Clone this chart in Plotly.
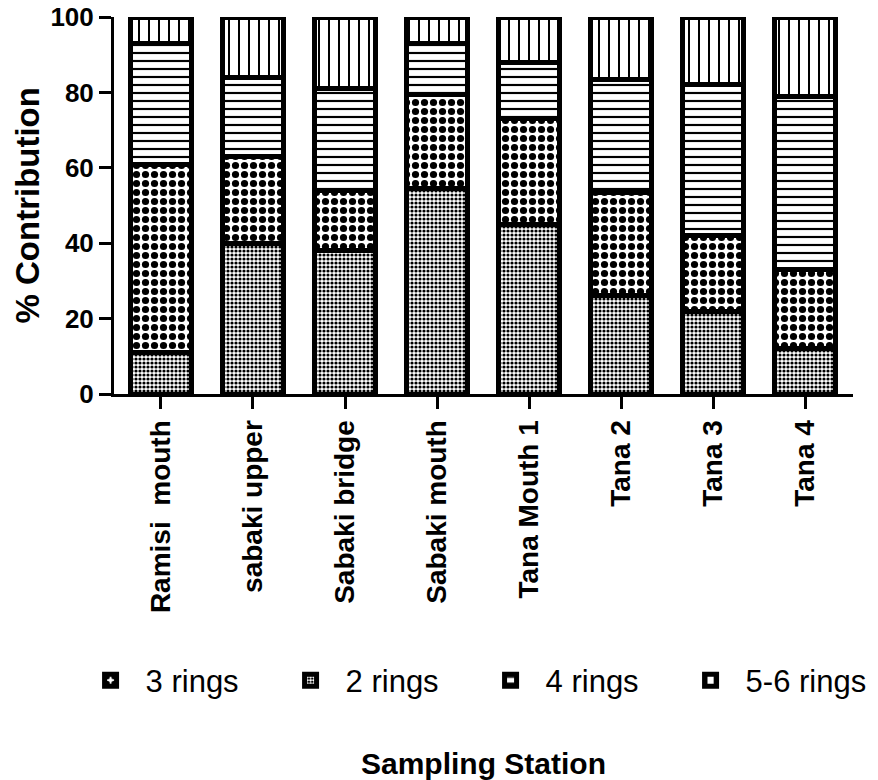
import plotly.graph_objects as go

# ---- data ----
stations = ["Ramisi\u00a0 mouth", "sabaki upper", "Sabaki bridge", "Sabaki mouth",
            "Tana Mouth 1", "Tana 2", "Tana 3", "Tana 4"]
rings_2 = [11, 40, 38, 54.5, 45, 26, 22, 12]
rings_3 = [50, 23, 16, 25, 28, 27.5, 20, 21]
rings_4 = [32, 21, 27, 13.5, 15, 30, 40, 46]
rings_56 = [7, 16, 19, 7, 12, 16.5, 18, 21]
y_ticks = [0, 20, 40, 60, 80, 100]

FONT = "Arial, Liberation Sans, sans-serif"

def bar(name, vals, shape, size, solidity, rank):
    return go.Bar(
        name=name, x=stations, y=vals, width=0.66, legendrank=rank,
        marker=dict(
            color="white",
            line=dict(color="black", width=5),
            pattern=dict(shape=shape, size=size, solidity=solidity,
                         fgcolor="black", bgcolor="white", fillmode="replace"),
        ),
    )

fig = go.Figure()
fig.add_trace(bar("2 rings", rings_2, ".", 4, 0.5, 2))
fig.add_trace(bar("3 rings", rings_3, ".", 9, 0.5, 1))
fig.add_trace(bar("4 rings", rings_4, "-", 8, 0.27, 3))
fig.add_trace(bar("5-6 rings", rings_56, "|", 10, 0.2, 4))

fig.update_layout(
    width=870, height=772,
    barmode="stack",
    template="none",
    plot_bgcolor="white", paper_bgcolor="white",
    margin=dict(l=106, r=25, t=9, b=386, autoexpand=False),
    font=dict(family=FONT, color="black"),
    showlegend=True,
    legend=dict(orientation="h", x=-0.052, xanchor="left", y=-0.76, yanchor="middle",
                font=dict(size=31, family=FONT, color="black"),
                traceorder="normal", itemwidth=60,
                entrywidth=125, entrywidthmode="pixels"),
    xaxis=dict(
        range=[-0.51, 7.52], showgrid=False, zeroline=False,
        showline=True, linecolor="black", linewidth=3,
        ticks="outside", ticklen=12, tickwidth=3, tickcolor="black",
        tickangle=-90, automargin=False,
        tickfont=dict(size=28, family=FONT, color="black", weight="bold"),
    ),
    yaxis=dict(
        range=[0, 100], tickvals=y_ticks, showgrid=False, zeroline=False,
        showline=True, linecolor="black", linewidth=3,
        ticks="outside", ticklen=12, tickwidth=3, tickcolor="black",
        automargin=False, ticklabeloverflow="allow",
        tickfont=dict(size=26, family=FONT, color="black", weight="bold"),
    ),
    annotations=[
        dict(text="% Contribution", xref="paper", yref="paper", x=-0.1177, y=0.5,
             xanchor="center", yanchor="middle", textangle=-90, showarrow=False,
             font=dict(size=33, family=FONT, color="black", weight="bold")),
        dict(text="Sampling Station", xref="paper", yref="paper", x=0.5, y=-0.981,
             xanchor="center", yanchor="middle", showarrow=False,
             font=dict(size=30, family=FONT, color="black", weight="bold")),
    ],
)

fig.write_html("out.html")
